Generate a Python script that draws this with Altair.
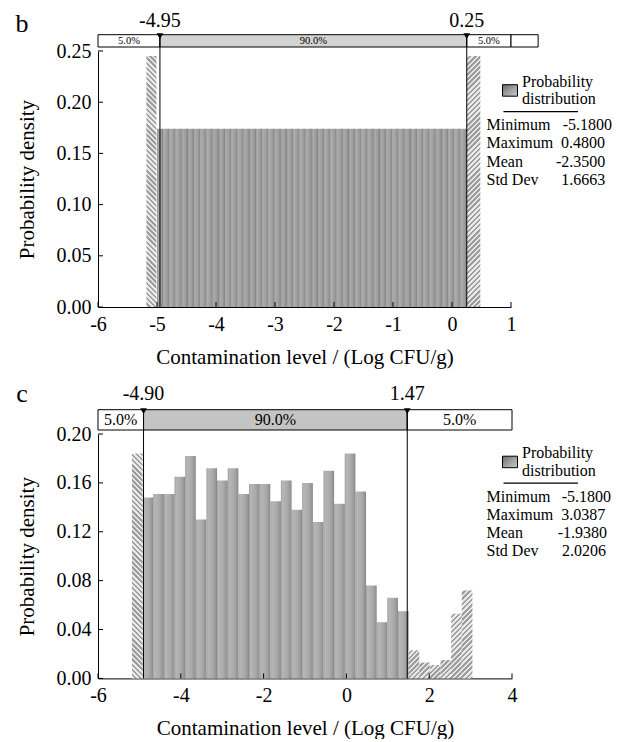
import math
import altair as alt
import pandas as pd

FONT = "Liberation Serif"

# ---------------- panel b data ----------------
B_X_TICKS = [-6, -5, -4, -3, -2, -1, 0, 1]
B_Y_TICKS = [0.00, 0.05, 0.10, 0.15, 0.20, 0.25]
B_PCT_VALUES = [-4.95, 0.25]
B_PCT_LABELS = ["-4.95", "0.25"]
B_MAIN_FROM = -5.00
B_MAIN_TO = 0.25
B_MAIN_HEIGHTS = [
    0.174, 0.174, 0.174, 0.174, 0.174, 0.174, 0.174, 0.174, 0.174, 0.174,
    0.174, 0.174, 0.174, 0.174, 0.174, 0.174, 0.174, 0.174, 0.174, 0.174,
    0.174, 0.174, 0.174, 0.174, 0.174, 0.174, 0.174, 0.174, 0.174, 0.174,
    0.174, 0.174, 0.174, 0.174, 0.174, 0.174, 0.174, 0.174, 0.174, 0.174,
    0.174, 0.174, 0.174, 0.174, 0.174, 0.174, 0.174, 0.174, 0.174, 0.174,
]
B_TAIL_LO = [-5.18, 0.25]
B_TAIL_HI = [-5.01, 0.48]
B_TAIL_HEIGHTS = [0.245, 0.245]
B_TAIL_DIR = ["\\", "/"]
B_BOX_EDGES = [-6.0, -4.95, 0.25, 1.0, 1.46]
B_BOX_TEXT = ["5.0%", "90.0%", "5.0%", ""]
B_STAT_NAMES = ["Minimum", "Maximum", "Mean", "Std Dev"]
B_STAT_VALUES = ["-5.1800", "0.4800", "-2.3500", "1.6663"]

# ---------------- panel c data ----------------
C_X_TICKS = [-6, -4, -2, 0, 2, 4]
C_Y_TICKS = [0.00, 0.04, 0.08, 0.12, 0.16, 0.20]
C_PCT_VALUES = [-4.90, 1.47]
C_PCT_LABELS = ["-4.90", "1.47"]
C_BIN_START = -5.18
C_BIN_WIDTH = 0.257
C_HEIGHTS = [
    0.184, 0.148, 0.151, 0.151, 0.165, 0.182, 0.130, 0.172, 0.162, 0.172,
    0.151, 0.159, 0.159, 0.145, 0.162, 0.138, 0.160, 0.128, 0.170, 0.143,
    0.184, 0.153, 0.076, 0.046, 0.066, 0.055, 0.023, 0.013, 0.011, 0.015,
    0.053, 0.072,
]
C_TAIL_BINS = [0, 26, 27, 28, 29, 30, 31]
C_BOX_EDGES = [-6.0, -4.90, 1.47, 4.0]
C_BOX_TEXT = ["5.0%", "90.0%", "5.0%"]
C_STAT_NAMES = ["Minimum", "Maximum", "Mean", "Std Dev"]
C_STAT_VALUES = ["-5.1800", "3.0387", "-1.9380", "2.0206"]

X_TITLE = "Contamination level / (Log CFU/g)"
Y_TITLE = "Probability density"
MINUS = "\u2212"


def stop(c, o):
    return alt.GradientStop(color=c, offset=o)


def bar_gradient(c0, c1, c2, c3, c4):
    return alt.LinearGradient(
        gradient="linear", x1=0, y1=0, x2=1, y2=0,
        stops=[stop(c0, 0), stop(c1, 0.15), stop(c2, 0.6), stop(c3, 0.9), stop(c4, 1)],
    )


B_GRAD = bar_gradient("#909090", "#acacac", "#9e9e9e", "#8a8a8a", "#747474")
C_GRAD = bar_gradient("#9c9c9c", "#b6b6b6", "#aaaaaa", "#959595", "#7e7e7e")
LEG_GRAD = alt.LinearGradient(
    gradient="linear", x1=0, y1=0, x2=1, y2=1,
    stops=[stop("#6a6a6a", 0), stop("#a8a8a8", 0.6), stop("#c8c8c8", 1)],
)


def hatch_gradient(w, h, direction, period=3.6, light="#e8e8e8", dark="#9e9e9e"):
    w = max(w, 0.5)
    h = max(h, 0.5)
    a = (w + h) * w / (w * w + h * h)
    if direction == "/":
        x1, y1, x2, y2 = 0, 0, a, a * h / w
    else:
        x1, y1, x2, y2 = 0, 1, a, 1 - a * h / w
    n = max(1, int(round((w + h) / (math.sqrt(2) * period))))
    stops = []
    for k in range(n):
        o0, o1, o2 = k / n, (k + 0.5) / n, (k + 1) / n
        stops += [stop(light, o0), stop(light, o1), stop(dark, o1), stop(dark, o2)]
    return alt.LinearGradient(gradient="linear", x1=x1, y1=y1, x2=x2, y2=y2, stops=stops)


def txt(size, align="center", baseline="middle"):
    return dict(font=FONT, fontSize=size, color="black", align=align, baseline=baseline)


def build_panel(cfg):
    W, H = cfg["W"], cfg["H"]
    xdom, ydom = cfg["xdom"], cfg["ydom"]
    xs = alt.Scale(domain=xdom, nice=False, zero=False)
    ys = alt.Scale(domain=ydom, nice=False, zero=False)
    xax = alt.Axis(values=cfg["xticks"], title=X_TITLE, format="d",
                   labelExpr="replace(datum.label, '%s', '-')" % MINUS)
    yax = alt.Axis(values=cfg["yticks"], title=Y_TITLE, format=".2f")

    def X(f):
        return alt.X(f, scale=xs, axis=xax)

    def Y(f):
        return alt.Y(f, scale=ys, axis=yax)

    pxx = W / (xdom[1] - xdom[0])
    pxy = H / (ydom[1] - ydom[0])
    layers = []

    main = pd.DataFrame({"lo": cfg["main_lo"], "hi": cfg["main_hi"],
                         "h": cfg["main_h"], "z": 0.0})
    layers.append(
        alt.Chart(main).mark_rect(fill=cfg["grad"], strokeWidth=0).encode(
            x=X("lo:Q"), x2="hi:Q", y=Y("h:Q"), y2="z:Q")
    )

    for lo, hi, h, d in zip(cfg["tail_lo"], cfg["tail_hi"], cfg["tail_h"], cfg["tail_dir"]):
        g = hatch_gradient((hi - lo) * pxx, h * pxy, d)
        df = pd.DataFrame({"lo": [lo], "hi": [hi], "h": [h], "z": [0.0]})
        layers.append(
            alt.Chart(df).mark_rect(fill=g, strokeWidth=0).encode(
                x=X("lo:Q"), x2="hi:Q", y=Y("h:Q"), y2="z:Q")
        )

    # inward tick marks
    layers.append(
        alt.Chart(pd.DataFrame({"lo": cfg["xticks"]})).mark_rule(color="black", strokeWidth=1).encode(
            x=X("lo:Q"), y=alt.value(H), y2=alt.value(H - 5))
    )
    layers.append(
        alt.Chart(pd.DataFrame({"h": cfg["yticks"]})).mark_rule(color="black", strokeWidth=1).encode(
            y=Y("h:Q"), x=alt.value(0), x2=alt.value(5))
    )

    bt, bb = cfg["box_top"], cfg["box_bot"]
    edges = cfg["box_edges"]
    n = len(edges) - 1
    fills = ["white"] * n
    fills[1] = cfg["box_mid_fill"]
    box = pd.DataFrame({"lo": edges[:-1], "hi": edges[1:],
                        "mid": [(edges[i] + edges[i + 1]) / 2 for i in range(n)],
                        "label": cfg["box_text"], "fill": fills})
    layers.append(
        alt.Chart(box).mark_rect(stroke="black", strokeWidth=1).encode(
            x=X("lo:Q"), x2="hi:Q",
            y=alt.value(bt), y2=alt.value(bb),
            fill=alt.Fill("fill:N", scale=None))
    )
    layers.append(
        alt.Chart(box).mark_text(**txt(cfg["box_font"])).encode(
            x=X("mid:Q"), y=alt.value((bt + bb) / 2 + 0.5), text="label:N")
    )

    pct = pd.DataFrame({"p": cfg["pct"], "label": cfg["pct_labels"]})
    layers.append(
        alt.Chart(pct).mark_rule(color="black", strokeWidth=1).encode(
            x=X("p:Q"), y=alt.value(bt), y2=alt.value(H))
    )
    layers.append(
        alt.Chart(pct).mark_point(shape="triangle-down", filled=True, color="black",
                                  size=45, opacity=1).encode(
            x=X("p:Q"), y=alt.value(bt + 1.5))
    )
    layers.append(
        alt.Chart(pct).mark_text(**txt(20)).encode(
            x=X("p:Q"), y=alt.value(cfg["pct_y"]), text="label:N")
    )

    one = pd.DataFrame({"letter": [cfg["letter"]], "a": ["Probability"], "b": ["distribution"]})
    layers.append(
        alt.Chart(one).mark_text(**txt(26)).encode(
            x=alt.value(-76), y=alt.value(cfg["letter_y"]), text="letter:N")
    )

    # legend block
    ly = cfg["leg_y"]
    layers.append(
        alt.Chart(one).mark_rect(fill=LEG_GRAD, stroke="black", strokeWidth=1).encode(
            x=alt.value(404.5), x2=alt.value(419.5), y=alt.value(ly + 3), y2=alt.value(ly + 14.5))
    )
    layers.append(
        alt.Chart(one).mark_text(**txt(16, align="left")).encode(
            x=alt.value(424), y=alt.value(ly), text="a:N")
    )
    layers.append(
        alt.Chart(one).mark_text(**txt(16, align="left")).encode(
            x=alt.value(424), y=alt.value(ly + 17.3), text="b:N")
    )
    layers.append(
        alt.Chart(one).mark_rule(color="black", strokeWidth=1.2).encode(
            x=alt.value(405.5), x2=alt.value(480), y=alt.value(ly + 30))
    )
    for i, (nm, val) in enumerate(zip(cfg["stat_names"], cfg["stat_values"])):
        yy = ly + 43.3 + i * cfg["stat_step"]
        row = pd.DataFrame({"n": [nm], "v": [val]})
        layers.append(
            alt.Chart(row).mark_text(**txt(16, align="left")).encode(
                x=alt.value(388.5), y=alt.value(yy), text="n:N")
        )
        layers.append(
            alt.Chart(row).mark_text(**txt(16, align="right")).encode(
                x=alt.value(cfg["stat_x"][i]), y=alt.value(yy), text="v:N")
        )

    return alt.layer(*layers).properties(width=W, height=H)


# panel b geometry
b_n = len(B_MAIN_HEIGHTS)
b_step = (B_MAIN_TO - B_MAIN_FROM) / b_n
cfg_b = dict(
    W=413, H=256, xdom=[-6, 1], ydom=[0, 0.25],
    xticks=B_X_TICKS, yticks=B_Y_TICKS, grad=B_GRAD,
    main_lo=[B_MAIN_FROM + i * b_step for i in range(b_n)],
    main_hi=[B_MAIN_FROM + (i + 1) * b_step for i in range(b_n)],
    main_h=B_MAIN_HEIGHTS,
    tail_lo=B_TAIL_LO, tail_hi=B_TAIL_HI, tail_h=B_TAIL_HEIGHTS, tail_dir=B_TAIL_DIR,
    box_edges=B_BOX_EDGES, box_text=B_BOX_TEXT, box_mid_fill="#d3d3d3", box_font=10.5,
    box_top=-16.3, box_bot=-4,
    pct=B_PCT_VALUES, pct_labels=B_PCT_LABELS, pct_y=-30,
    letter="b", letter_y=-27.5,
    leg_y=30.7, stat_step=18.3,
    stat_names=B_STAT_NAMES, stat_values=B_STAT_VALUES,
    stat_x=[514, 507, 507.3, 507.3],
)

# panel c geometry
c_edges_lo = [C_BIN_START + i * C_BIN_WIDTH for i in range(len(C_HEIGHTS))]
c_main_idx = [i for i in range(len(C_HEIGHTS)) if i not in C_TAIL_BINS]
cfg_c = dict(
    W=414, H=244.4, xdom=[-6, 4], ydom=[0, 0.20],
    xticks=C_X_TICKS, yticks=C_Y_TICKS, grad=C_GRAD,
    main_lo=[c_edges_lo[i] for i in c_main_idx],
    main_hi=[c_edges_lo[i] + C_BIN_WIDTH for i in c_main_idx],
    main_h=[C_HEIGHTS[i] for i in c_main_idx],
    tail_lo=[c_edges_lo[i] for i in C_TAIL_BINS],
    tail_hi=[c_edges_lo[i] + C_BIN_WIDTH for i in C_TAIL_BINS],
    tail_h=[C_HEIGHTS[i] for i in C_TAIL_BINS],
    tail_dir=["\\" if c_edges_lo[i] < C_PCT_VALUES[0] else "/" for i in C_TAIL_BINS],
    box_edges=C_BOX_EDGES, box_text=C_BOX_TEXT, box_mid_fill="#c4c4c4", box_font=16,
    box_top=-24.3, box_bot=-4,
    pct=C_PCT_VALUES, pct_labels=C_PCT_LABELS, pct_y=-40.5,
    letter="c", letter_y=-40.5,
    leg_y=19.2, stat_step=18,
    stat_names=C_STAT_NAMES, stat_values=C_STAT_VALUES,
    stat_x=[513, 507.3, 509, 508],
)

chart = (
    alt.vconcat(build_panel(cfg_b), build_panel(cfg_c), spacing=13)
    .properties(padding={"left": 7, "top": 2, "right": 0, "bottom": 0})
    .configure_view(stroke=None)
    .configure_axis(
        labelFont=FONT, titleFont=FONT, labelFontSize=20, titleFontSize=21,
        titleFontWeight="normal", labelColor="black", titleColor="black",
        domainColor="black", domainWidth=1, ticks=False, tickSize=0,
        grid=False, labelPadding=7, labelFlush=False, labelOverlap=False,
    )
    .configure_axisX(titlePadding=12)
    .configure_axisY(titlePadding=19)
)

chart.save("out.html", embed_options={"renderer": "svg", "actions": False})
